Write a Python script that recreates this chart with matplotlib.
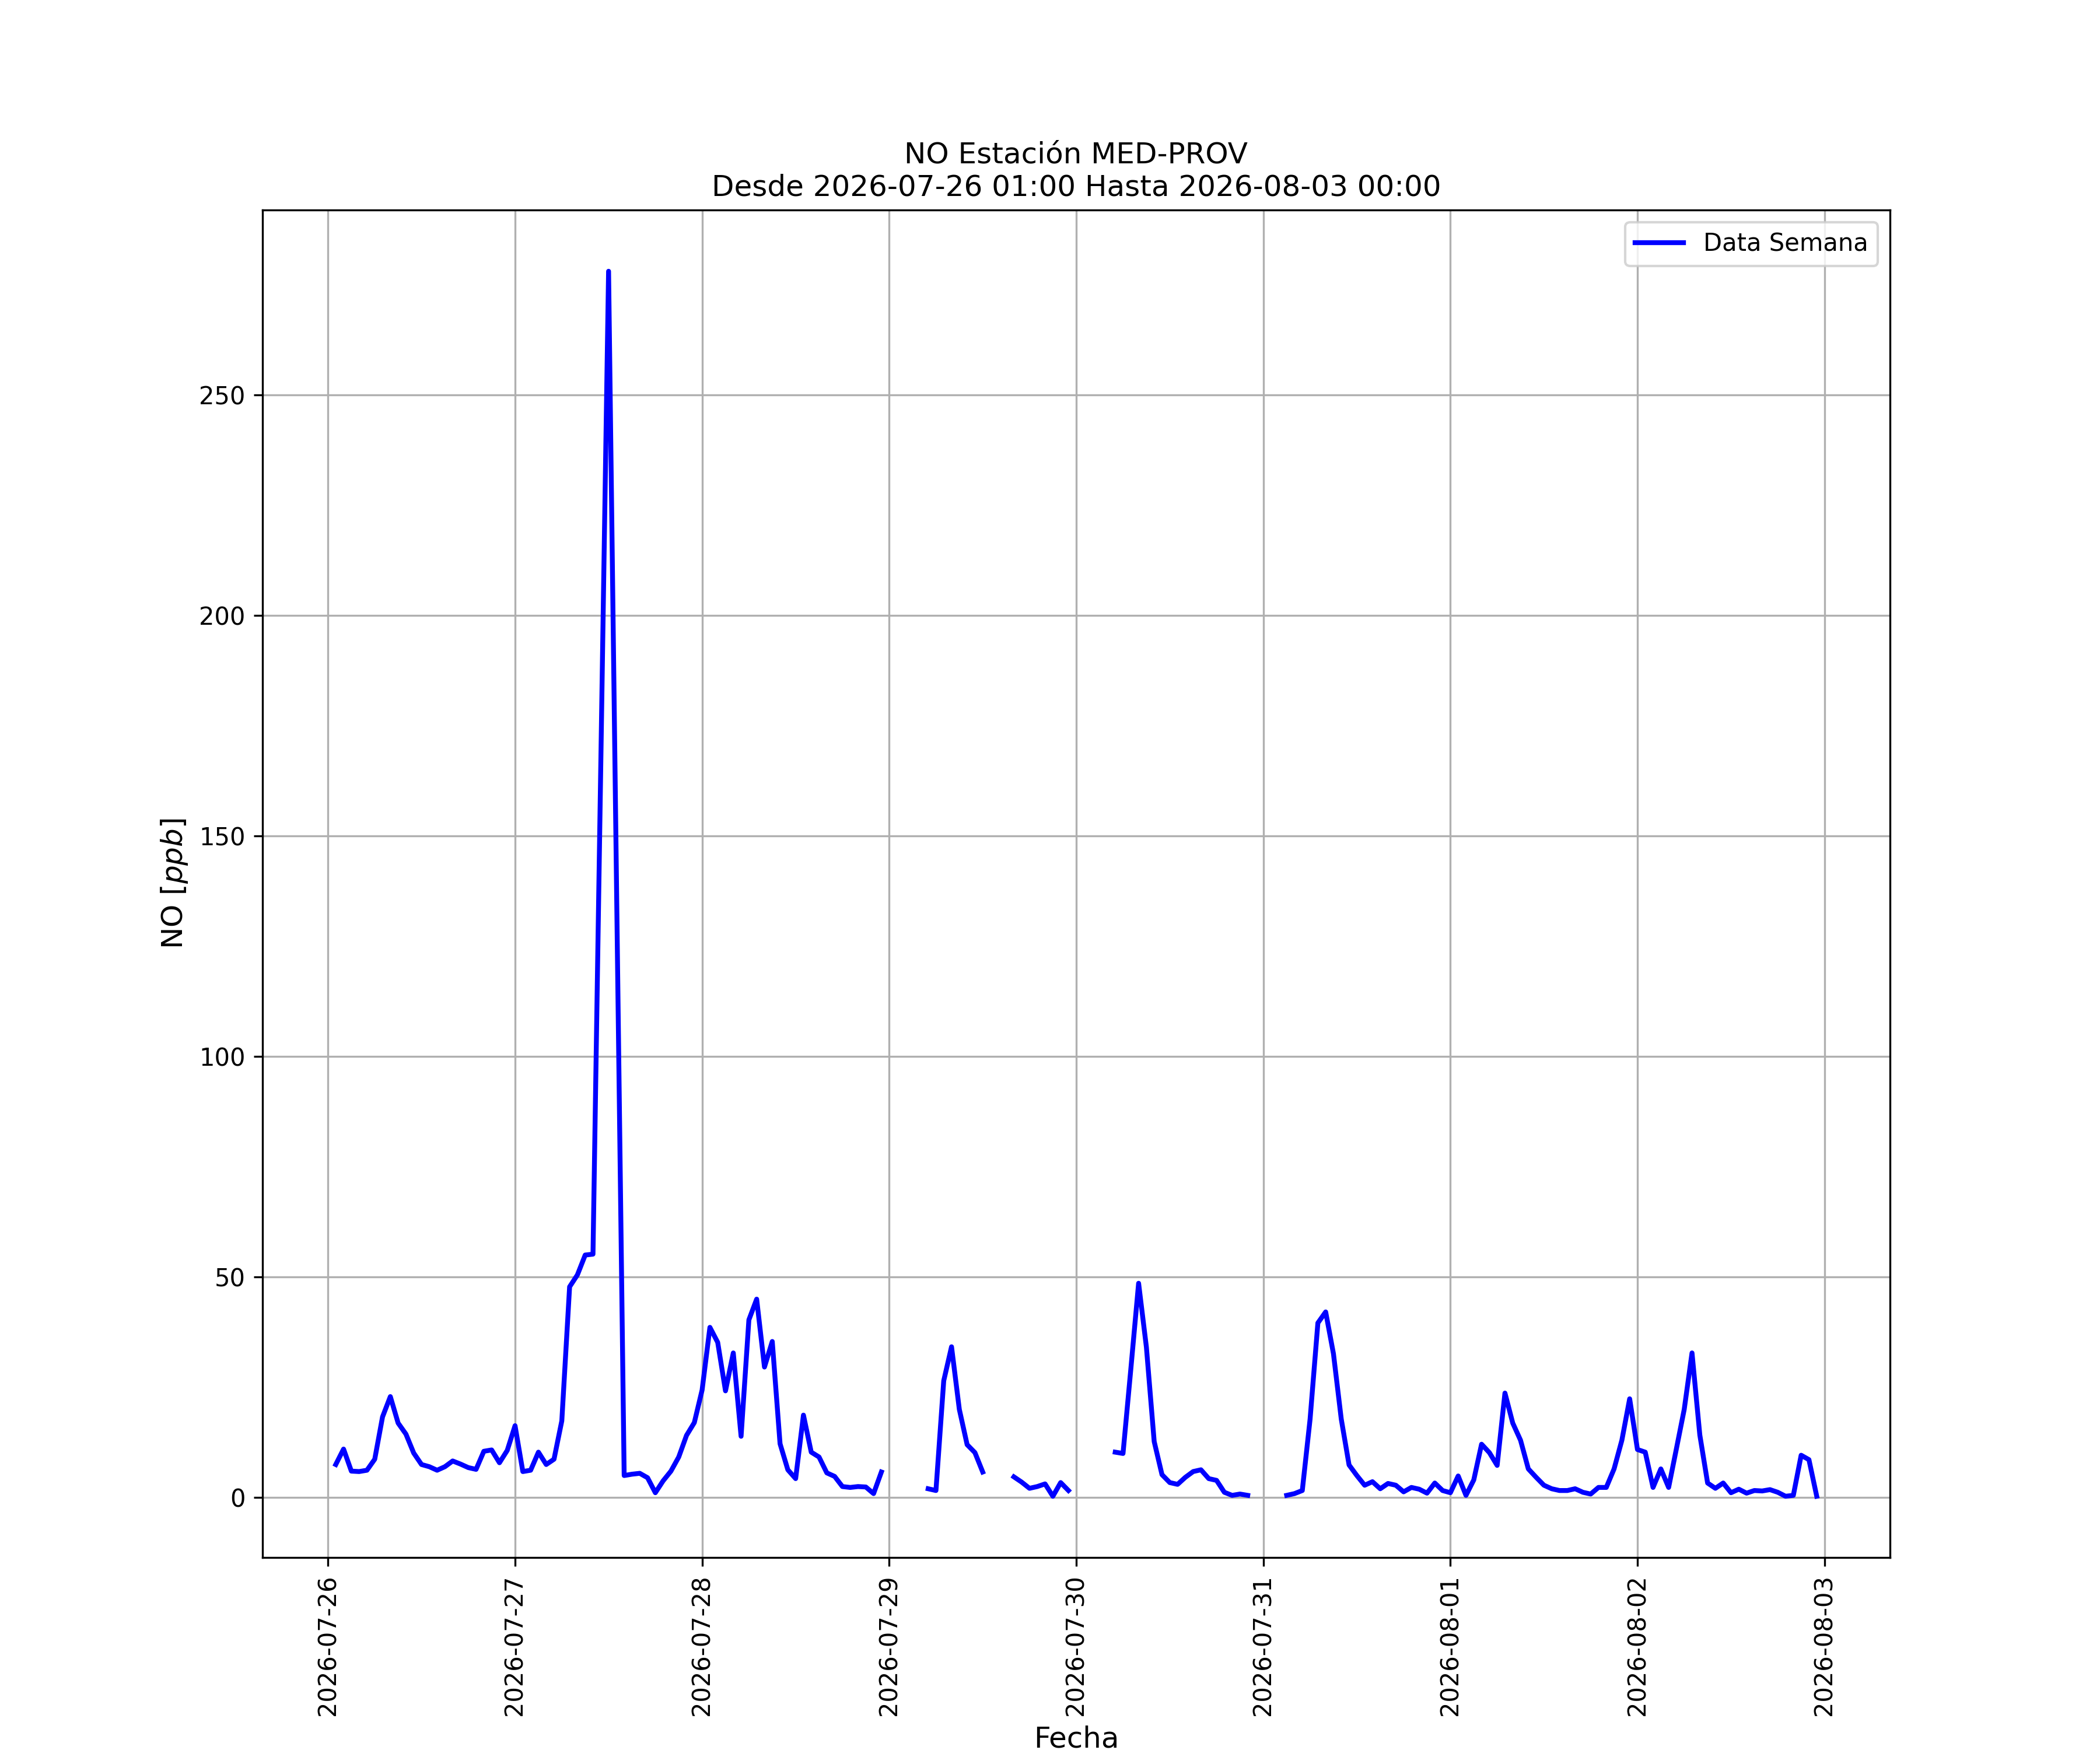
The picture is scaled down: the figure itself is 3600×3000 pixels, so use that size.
import numpy as np
import pandas as pd
import matplotlib
matplotlib.use("Agg")
import matplotlib.pyplot as plt
import matplotlib.dates as mdates

# NO hourly values (ppb), one list per day, hours 00..23; None = no data
d_0726 = [None, 7.4, 10.9, 5.9, 5.8, 6.1, 8.6, 18.2, 22.8, 16.8, 14.3, 10.0,
          7.4, 6.9, 6.1, 6.9, 8.2, 7.5, 6.7, 6.3, 10.4, 10.7, 7.8, 10.6]
d_0727 = [16.2, 5.8, 6.1, 10.2, 7.4, 8.6, 17.3, 47.7, 50.4, 54.9, 55.1, 166.0,
          278.0, 141.0, 4.9, 5.2, 5.4, 4.4, 1.0, 3.7, 5.9, 9.1, 14.0, 16.9]
d_0728 = [24.3, 38.5, 35.1, 24.1, 32.7, 13.8, 40.2, 44.9, 29.5, 35.3, 12.1, 6.2,
          4.2, 18.6, 10.2, 9.1, 5.5, 4.7, 2.4, 2.2, 2.4, 2.3, 0.8, 5.7]
d_0729 = [None, None, None, None, None, 1.9, 1.5, 26.4, 34.1, 19.9, 11.9, 10.1,
          5.7, None, None, None, 4.6, 3.4, 2.0, 2.4, 3.0, 0.2, 3.3, 1.5]
d_0730 = [None, None, None, None, None, 10.2, 9.9, 29.0, 48.5, 34.0, 12.6, 5.1,
          3.3, 2.9, 4.5, 5.8, 6.2, 4.2, 3.8, 1.1, 0.4, 0.7, 0.4, None]
d_0731 = [None, None, None, 0.4, 0.8, 1.5, 17.7, 39.5, 42.0, 32.5, 17.7, 7.3,
          4.9, 2.7, 3.5, 1.9, 3.1, 2.7, 1.2, 2.2, 1.8, 0.9, 3.2, 1.5]
d_0801 = [1.0, 4.8, 0.4, 3.9, 12.0, 10.1, 7.2, 23.6, 16.8, 12.9, 6.4, 4.5,
          2.7, 1.9, 1.5, 1.5, 1.9, 1.1, 0.7, 2.2, 2.2, 6.4, 12.9, 22.3]
d_0802 = [10.8, 10.2, 2.2, 6.4, 2.2, 11.0, 19.9, 32.7, 14.1, 3.2, 2.0, 3.2,
          1.0, 1.8, 0.9, 1.5, 1.4, 1.7, 1.1, 0.2, 0.4, 9.5, 8.5, 0.2]

days = [d_0726, d_0727, d_0728, d_0729, d_0730, d_0731, d_0801, d_0802]
values = np.array([np.nan if v is None else v for d in days for v in d], dtype=float)
fechas = pd.date_range("2026-07-26 00:00", periods=len(values), freq="h")

estacion = "MED-PROV"
desde = "2026-07-26 01:00"
hasta = "2026-08-03 00:00"

fig, ax = plt.subplots(figsize=(12, 10), dpi=300)
ax.plot(fechas, values, color="blue", linewidth=2, label="Data Semana")

margin = pd.Timedelta(hours=8.4)
ax.set_xlim(pd.Timestamp("2026-07-26") - margin, pd.Timestamp("2026-08-03") + margin)
ax.xaxis.set_major_locator(mdates.DayLocator())
ax.xaxis.set_major_formatter(mdates.DateFormatter("%Y-%m-%d"))
plt.setp(ax.get_xticklabels(), rotation=90)

ax.grid(True)
ax.legend(loc="upper right")
ax.set_title(f"NO Estación {estacion}\nDesde {desde} Hasta {hasta}", fontsize=12)
ax.set_xlabel("Fecha", fontsize=12)
ax.set_ylabel("NO [$ppb$]", fontsize=12)

fig.savefig("out.png", dpi=300)
